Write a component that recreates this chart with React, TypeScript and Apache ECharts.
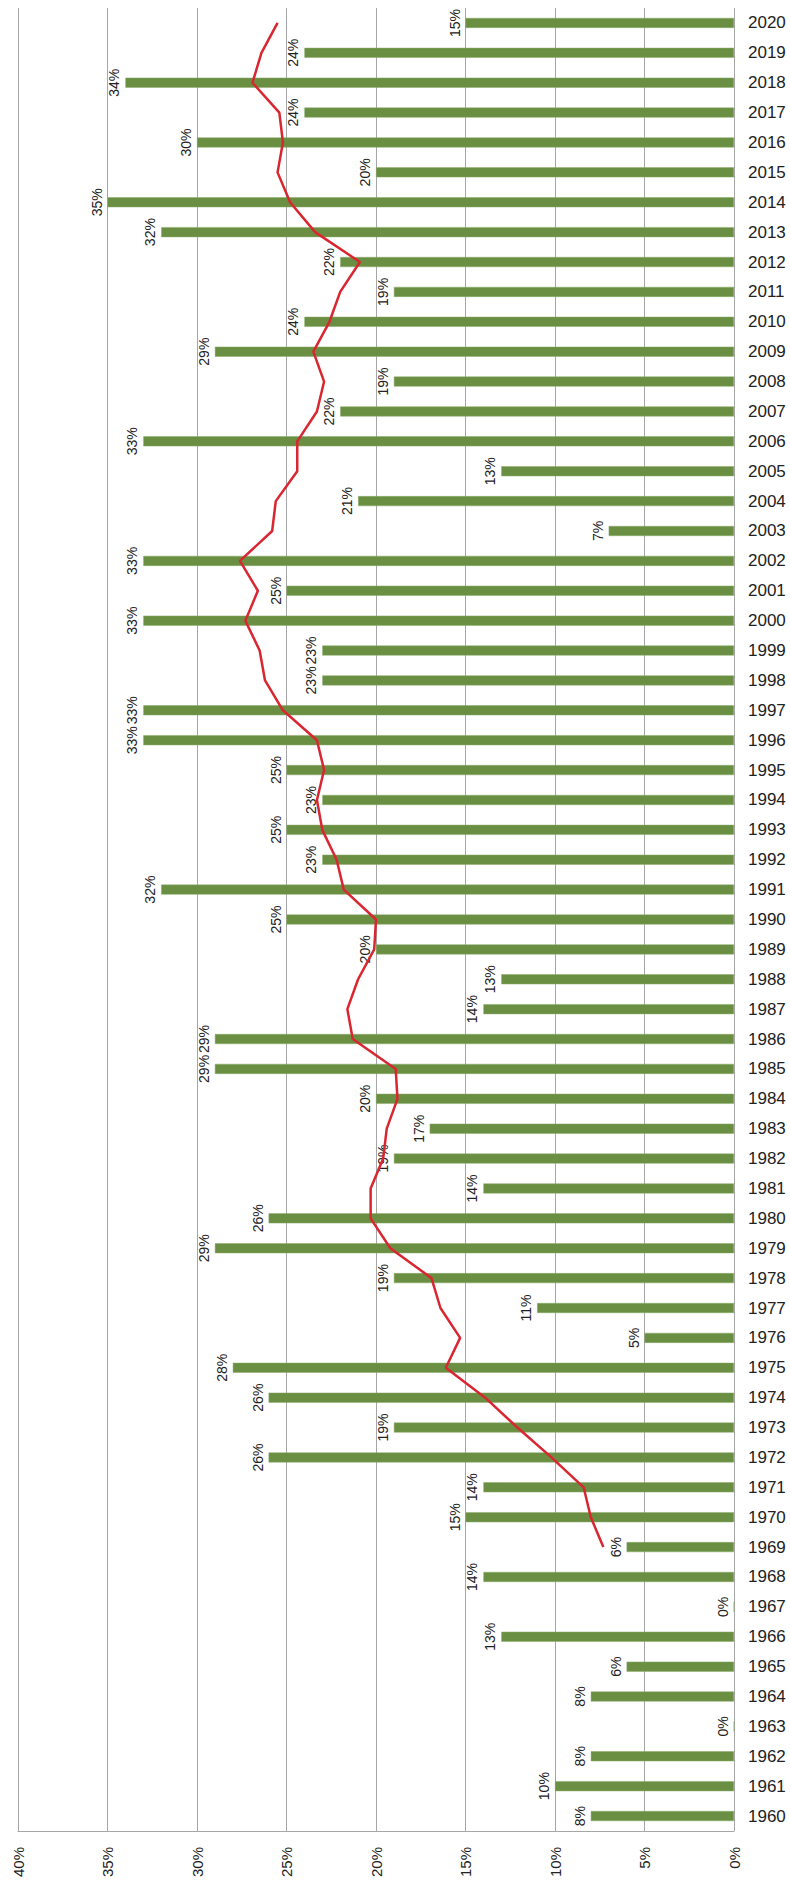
import React, { useEffect, useRef } from "react";
import * as echarts from "echarts";

const years: string[] = [
  "1960", "1961", "1962", "1963", "1964", "1965", "1966", "1967", "1968", "1969",
  "1970", "1971", "1972", "1973", "1974", "1975", "1976", "1977", "1978", "1979",
  "1980", "1981", "1982", "1983", "1984", "1985", "1986", "1987", "1988", "1989",
  "1990", "1991", "1992", "1993", "1994", "1995", "1996", "1997", "1998", "1999",
  "2000", "2001", "2002", "2003", "2004", "2005", "2006", "2007", "2008", "2009",
  "2010", "2011", "2012", "2013", "2014", "2015", "2016", "2017", "2018", "2019",
  "2020",
];

const shares: number[] = [
  8, 10, 8, 0, 8, 6, 13, 0, 14, 6,
  15, 14, 26, 19, 26, 28, 5, 11, 19, 29,
  26, 14, 19, 17, 20, 29, 29, 14, 13, 20,
  25, 32, 23, 25, 23, 25, 33, 33, 23, 23,
  33, 25, 33, 7, 21, 13, 33, 22, 19, 29,
  24, 19, 22, 32, 35, 20, 30, 24, 34, 24,
  15,
];

// 10-year moving average line as drawn in the picture (starts at 1969)
const trend: (number | null)[] = [
  null, null, null, null, null, null, null, null, null, 7.3,
  8.0, 8.4, 10.2, 12.1, 13.9, 16.1, 15.3, 16.4, 16.9, 19.2,
  20.3, 20.3, 19.6, 19.4, 18.8, 18.9, 21.3, 21.6, 21.0, 20.1,
  20.0, 21.8, 22.2, 23.0, 23.3, 22.9, 23.3, 25.2, 26.2, 26.5,
  27.3, 26.6, 27.6, 25.8, 25.6, 24.4, 24.4, 23.3, 22.9, 23.5,
  22.6, 22.0, 20.9, 23.4, 24.8, 25.5, 25.2, 25.4, 26.9, 26.4,
  25.5,
];

const FONT = "'Liberation Sans', Arial, sans-serif";

export default function App() {
  const ref = useRef<HTMLDivElement>(null);

  useEffect(() => {
    document.body.style.margin = "0";
    if (!ref.current) return;
    const chart = echarts.init(ref.current, undefined, { renderer: "svg" });
    chart.setOption({
      animation: false,
      backgroundColor: "#ffffff",
      grid: { left: 18, right: 56, top: 8, bottom: 50, containLabel: false },
      xAxis: {
        type: "value",
        inverse: true,
        min: 0,
        max: 40,
        interval: 5,
        position: "bottom",
        axisLine: { show: true, lineStyle: { color: "#a6a6a6", width: 1 } },
        axisTick: { show: false },
        splitLine: { show: true, lineStyle: { color: "#a6a6a6", width: 1 } },
        axisLabel: {
          formatter: "{value}%",
          rotate: 90,
          margin: 16,
          fontSize: 15,
          color: "#222222",
          fontFamily: FONT,
        },
      },
      yAxis: {
        type: "category",
        data: years,
        position: "right",
        axisLine: { show: false },
        axisTick: { show: false },
        splitLine: { show: false },
        axisLabel: {
          margin: 14,
          fontSize: 17,
          color: "#222222",
          fontFamily: FONT,
        },
      },
      series: [
        {
          type: "bar",
          data: shares,
          barWidth: 10,
          itemStyle: { color: "#6a8f42", borderColor: "#8aab6a", borderWidth: 0.5 },
          label: {
            show: true,
            position: "left",
            rotate: 90,
            align: "center",
            verticalAlign: "bottom",
            distance: 4,
            formatter: "{c}%",
            fontSize: 14,
            color: "#222222",
            fontFamily: FONT,
          },
          z: 2,
        },
        {
          type: "line",
          data: trend,
          symbol: "none",
          connectNulls: false,
          lineStyle: { color: "#d92630", width: 2.5 },
          z: 3,
        },
      ],
    });
    return () => chart.dispose();
  }, []);

  return <div ref={ref} style={{ width: 790, height: 1881 }} />;
}
